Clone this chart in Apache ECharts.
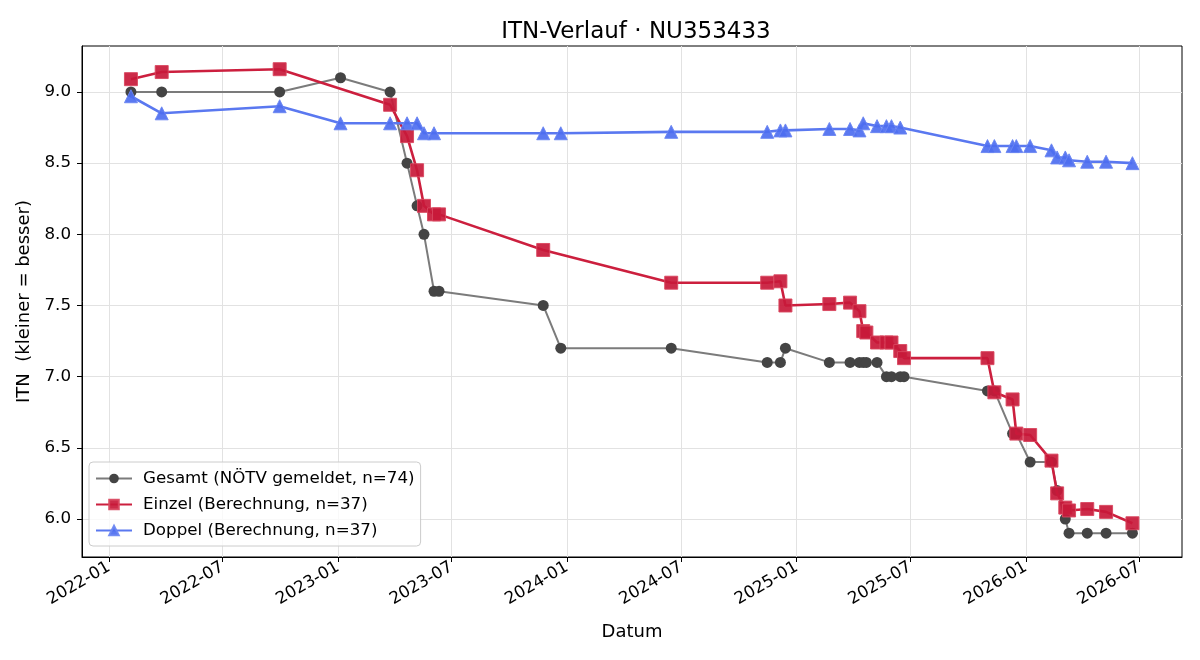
<!DOCTYPE html>
<html>
<head>
<meta charset="utf-8">
<script src="https://cdn.jsdelivr.net/npm/echarts@6/dist/echarts.min.js"></script>
<style>
  html, body { margin: 0; padding: 0; background: #fff; }
  #main { width: 1200px; height: 660px; }
</style>
</head>
<body>
<div id="main"></div>
<script>
// Gesamt (NÖTV gemeldet)
var gesamtDates = ['2022-02-05', '2022-03-26', '2022-09-30', '2023-01-05', '2023-03-25', '2023-04-21', '2023-05-07',
    '2023-05-18', '2023-06-03', '2023-06-11', '2023-11-24', '2023-12-22', '2024-06-15', '2024-11-15', '2024-12-06',
    '2024-12-14', '2025-02-22', '2025-03-27', '2025-04-11', '2025-04-17', '2025-04-22', '2025-05-09', '2025-05-24',
    '2025-06-01', '2025-06-15', '2025-06-21', '2025-11-01', '2025-11-12', '2025-12-11', '2025-12-17', '2026-01-08',
    '2026-02-11', '2026-02-20', '2026-03-05', '2026-03-11', '2026-04-09', '2026-05-09', '2026-06-20'];
var gesamtValues = [9.0, 9.0, 9.0, 9.1, 9.0, 8.5, 8.2,
    8.0, 7.6, 7.6, 7.5, 7.2, 7.2, 7.1, 7.1,
    7.2, 7.1, 7.1, 7.1, 7.1, 7.1, 7.1, 7.0,
    7.0, 7.0, 7.0, 6.9, 6.9, 6.6, 6.6, 6.4,
    6.4, 6.2, 6.0, 5.9, 5.9, 5.9, 5.9];

// Einzel (Berechnung)
var einzelDates = ['2022-02-05', '2022-03-26', '2022-09-30', '2023-03-25', '2023-04-21', '2023-05-07', '2023-05-18',
    '2023-06-03', '2023-06-11', '2023-11-24', '2024-06-15', '2024-11-15', '2024-12-06', '2024-12-14', '2025-02-22',
    '2025-03-27', '2025-04-11', '2025-04-17', '2025-04-22', '2025-05-09', '2025-05-24', '2025-06-01', '2025-06-15',
    '2025-06-21', '2025-11-01', '2025-11-12', '2025-12-11', '2025-12-17', '2026-01-08', '2026-02-11', '2026-02-20',
    '2026-03-05', '2026-03-11', '2026-04-09', '2026-05-09', '2026-06-20'];
var einzelValues = [9.09, 9.14, 9.16, 8.91, 8.69, 8.45, 8.20,
    8.14, 8.14, 7.89, 7.66, 7.66, 7.67, 7.50, 7.51,
    7.52, 7.46, 7.32, 7.31, 7.24, 7.24, 7.24, 7.18,
    7.13, 7.13, 6.89, 6.84, 6.60, 6.59, 6.41, 6.18,
    6.08, 6.06, 6.07, 6.05, 5.97];

// Doppel (Berechnung)
var doppelDates = ['2022-02-05', '2022-03-26', '2022-09-30', '2023-01-05', '2023-03-25', '2023-04-21', '2023-05-07',
    '2023-05-18', '2023-06-03', '2023-11-24', '2023-12-22', '2024-06-15', '2024-11-15', '2024-12-06', '2024-12-14',
    '2025-02-22', '2025-03-27', '2025-04-11', '2025-04-17', '2025-05-09', '2025-05-24', '2025-06-01', '2025-06-15',
    '2025-11-01', '2025-11-12', '2025-12-11', '2025-12-17', '2026-01-08', '2026-02-11', '2026-02-20', '2026-03-05',
    '2026-03-11', '2026-04-09', '2026-05-09', '2026-06-20'];
var doppelValues = [8.97, 8.85, 8.90, 8.78, 8.78, 8.78, 8.78,
    8.71, 8.71, 8.71, 8.71, 8.72, 8.72, 8.73, 8.73,
    8.74, 8.74, 8.73, 8.78, 8.76, 8.76, 8.76, 8.75,
    8.62, 8.62, 8.62, 8.62, 8.62, 8.59, 8.54, 8.54,
    8.52, 8.51, 8.51, 8.50];

var xTickLabels = ['2022-01', '2022-07', '2023-01', '2023-07', '2024-01', '2024-07', '2025-01', '2025-07', '2026-01', '2026-07'];
var yTicks = [6.0, 6.5, 7.0, 7.5, 8.0, 8.5, 9.0];

var FONT = 'DejaVu Sans';

// date string -> local timestamp
function ts(s) {
    var p = s.split('-');
    return new Date(+p[0], +p[1] - 1, p[2] ? +p[2] : 1).getTime();
}
function pair(dates, values) {
    var out = [];
    dates.forEach(function (d, i) {
        out.push([ts(d), values[i]]);
    });
    return out;
}

var xTickValues = xTickLabels.map(ts);

var chartDom = document.getElementById('main');
var myChart = echarts.init(chartDom, null, { renderer: 'canvas' });

var option = {
    animation: false,
    backgroundColor: '#fff',
    title: {
        text: 'ITN-Verlauf · NU353433',
        left: 631,
        top: 16,
        textAlign: 'center',
        textStyle: { fontFamily: FONT, fontSize: 23, fontWeight: 'normal', color: '#000' }
    },
    grid: {
        left: 82, right: 18, top: 46, bottom: 103,
        show: true, borderColor: '#000', borderWidth: 1, backgroundColor: 'transparent'
    },
    legend: {
        orient: 'vertical',
        left: 89,
        top: 462,
        padding: [8, 6, 7, 6],
        itemGap: 9,
        itemWidth: 36,
        itemHeight: 12,
        backgroundColor: 'rgba(255,255,255,0.8)',
        borderColor: '#cccccc',
        borderWidth: 1,
        borderRadius: 4,
        textStyle: { fontFamily: FONT, fontSize: 16.7, color: '#000', padding: [0, 0, 0, 6] },
        data: ['Gesamt (NÖTV gemeldet, n=74)', 'Einzel (Berechnung, n=37)', 'Doppel (Berechnung, n=37)']
    },
    xAxis: {
        type: 'value',
        min: ts('2021-11-19'),
        max: ts('2026-09-07'),
        name: 'Datum',
        nameLocation: 'middle',
        nameGap: 66,
        nameTextStyle: { fontFamily: FONT, fontSize: 18, color: '#000' },
        axisLine: { show: true, lineStyle: { color: '#000', width: 1 } },
        axisTick: { show: true, customValues: xTickValues, length: 5, lineStyle: { color: '#000' } },
        axisLabel: {
            customValues: xTickValues,
            rotate: 30,
            margin: 9,
            fontFamily: FONT,
            fontSize: 16.7,
            color: '#000',
            formatter: function (v) {
                var d = new Date(v);
                var m = d.getMonth() + 1;
                return d.getFullYear() + '-' + (m < 10 ? '0' + m : m);
            }
        },
        splitLine: { show: true, lineStyle: { color: '#e2e2e2', width: 1 } }
    },
    yAxis: {
        type: 'value',
        min: 5.733,
        max: 9.323,
        name: 'ITN  (kleiner = besser)',
        nameLocation: 'middle',
        nameGap: 45,
        nameTextStyle: { fontFamily: FONT, fontSize: 18, color: '#000' },
        axisLine: { show: true, lineStyle: { color: '#000', width: 1 } },
        axisTick: { show: true, customValues: yTicks, length: 5, lineStyle: { color: '#000' } },
        axisLabel: {
            customValues: yTicks,
            margin: 11,
            fontFamily: FONT,
            fontSize: 16.7,
            color: '#000',
            formatter: function (v) { return Number(v).toFixed(1); }
        },
        splitLine: { show: true, lineStyle: { color: '#e2e2e2', width: 1 } }
    },
    series: [{
        name: 'Gesamt (NÖTV gemeldet, n=74)',
        type: 'line',
        data: pair(gesamtDates, gesamtValues),
        symbol: 'circle',
        symbolSize: 11,
        showAllSymbol: true,
        lineStyle: { color: '#7b7b7b', width: 2 },
        itemStyle: { color: '#444444', opacity: 1 },
        z: 2
    }, {
        name: 'Einzel (Berechnung, n=37)',
        type: 'line',
        data: pair(einzelDates, einzelValues),
        symbol: 'rect',
        symbolSize: 13,
        showAllSymbol: true,
        lineStyle: { color: '#cc1f3e', width: 2.6 },
        itemStyle: { color: '#c8193a', borderColor: '#d9485f', borderWidth: 1, opacity: 0.92 },
        z: 3
    }, {
        name: 'Doppel (Berechnung, n=37)',
        type: 'line',
        data: pair(doppelDates, doppelValues),
        symbol: 'triangle',
        symbolSize: 13,
        showAllSymbol: true,
        lineStyle: { color: '#5a78f0', width: 2.6 },
        itemStyle: { color: '#4d6ef0', borderColor: '#6a86f2', borderWidth: 1, opacity: 0.92 },
        z: 4
    }]
};

option && myChart.setOption(option);
</script>
</body>
</html>
